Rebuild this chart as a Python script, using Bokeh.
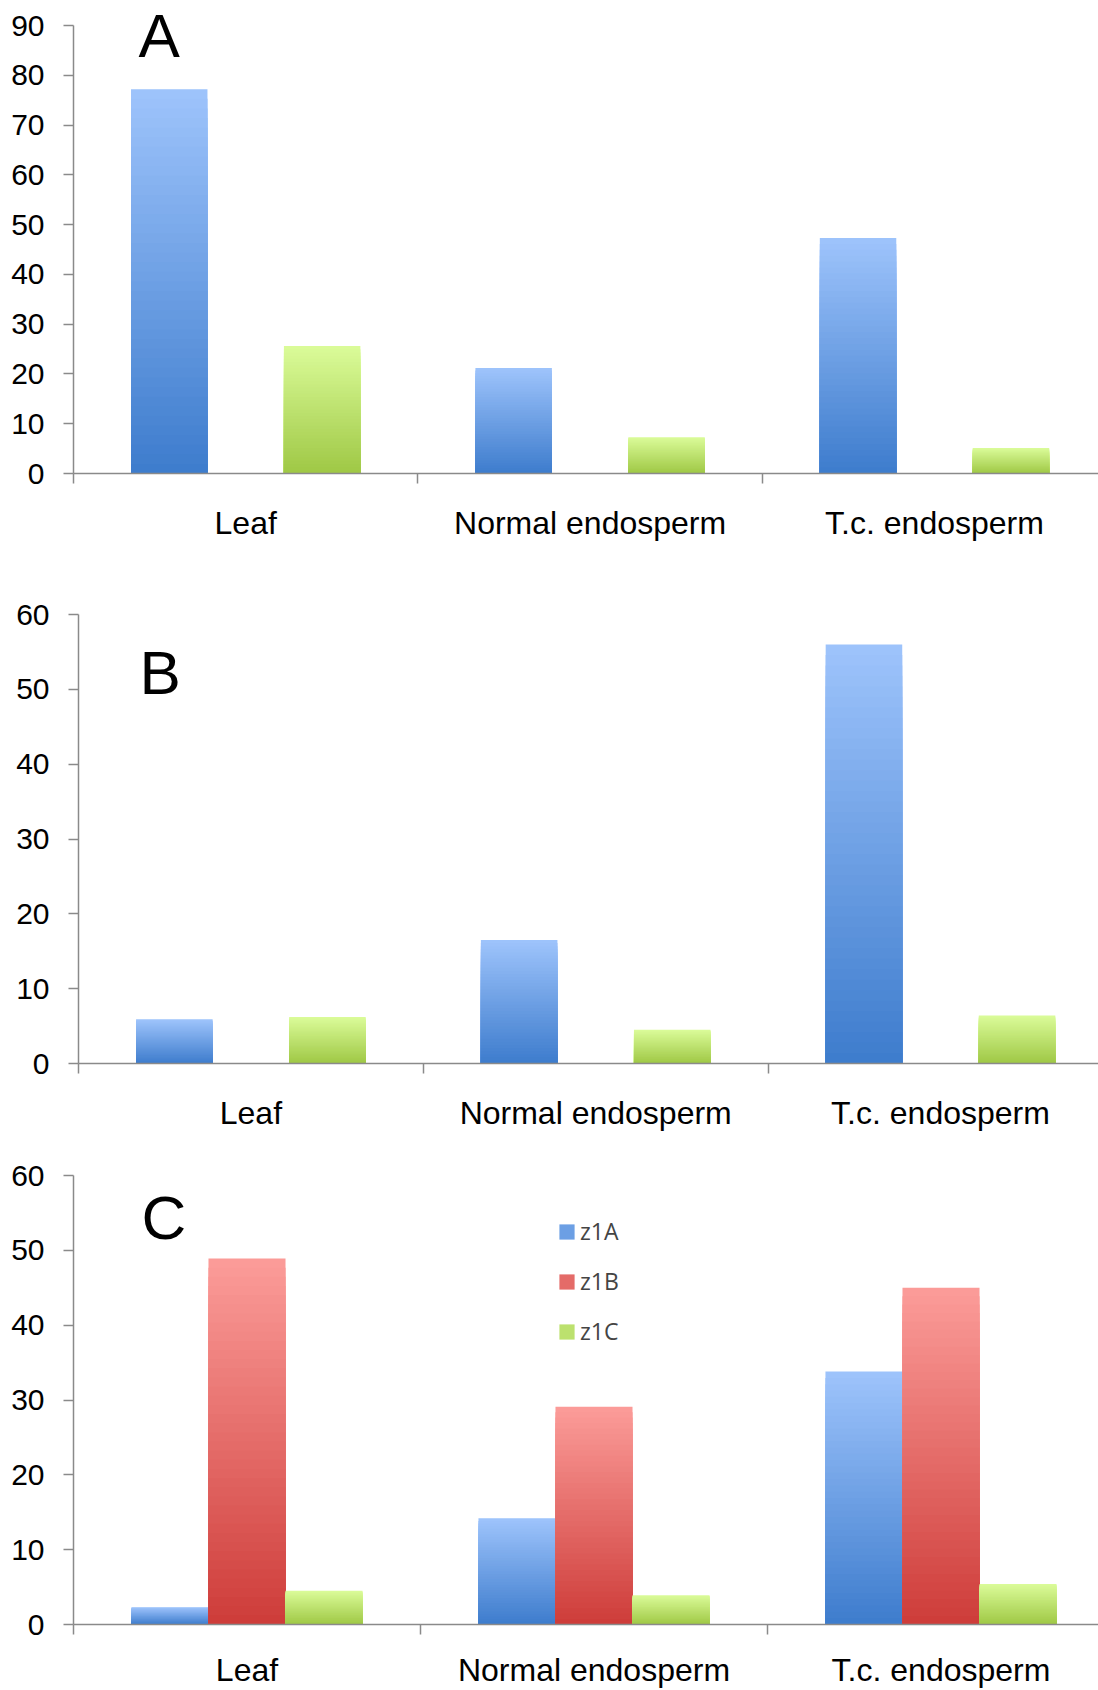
from bokeh.plotting import figure
from bokeh.models import (Range1d, FixedTicker, Legend, LegendItem,
                          Label, ColumnDataSource)
from bokeh.layouts import column
from bokeh.embed import file_html
from bokeh.resources import INLINE

# ---------------- data ----------------
categories = ["Leaf", "Normal endosperm", "T.c. endosperm"]
series_names = ["z1A", "z1B", "z1C"]

A_z1A = [77.2, 21.2, 47.3]
A_z1C = [25.6, 7.3, 5.1]

B_z1A = [5.9, 16.5, 56.0]
B_z1C = [6.2, 4.5, 6.4]

C_z1A = [2.3, 14.2, 33.8]
C_z1B = [48.9, 29.1, 45.0]
C_z1C = [4.5, 3.9, 5.4]

A_yticks = [0, 10, 20, 30, 40, 50, 60, 70, 80, 90]
BC_yticks = [0, 10, 20, 30, 40, 50, 60]

# ---------------- style ----------------
GRAD = {
    "z1A": ((60, 123, 204), (157, 195, 251)),
    "z1B": ((205, 59, 56), (251, 155, 152)),
    "z1C": ((158, 199, 68), (218, 251, 152)),
}
OFFSET = {"z1A": -0.222, "z1B": 0.0, "z1C": 0.222}
BAR_W = 0.222
AXIS_GRAY = "#8a8a8a"
TICK_FONT = "Liberation Sans"
N_STRIPS = 40
TOP_BORDER = 10


def hexcol(c):
    return "#%02x%02x%02x" % tuple(int(round(v)) for v in c)


def mix(a, b, t):
    return tuple(a[i] + (b[i] - a[i]) * t for i in range(3))


def make_panel(letter, series, yticks, height, left, pad, bottom, cat_w,
               letter_xy, label_standoff=21, legend=False):
    frame_w = 1098 - left
    frame_h = height - TOP_BORDER - bottom
    span = frame_h - pad              # pixels between 0 and the top tick
    ymax = yticks[-1]
    n = len(categories)
    p = figure(width=1098, height=height, output_backend="svg",
               toolbar_location=None, tools="",
               x_range=Range1d(0, frame_w / cat_w),
               y_range=Range1d(yticks[0], ymax * frame_h / span),
               min_border_left=left, min_border_right=0,
               min_border_top=TOP_BORDER, min_border_bottom=bottom)
    p.outline_line_color = None
    p.xgrid.visible = False
    p.ygrid.visible = False
    p.background_fill_color = "white"
    p.border_fill_color = "white"

    renderers = {}
    for name, vals in series:
        dark, light = GRAD[name]
        xs, tops, cols = [], [], []
        # nested bars: tallest (light) first, shorter (darker) on top
        for k in range(N_STRIPS):
            frac = (N_STRIPS - k) / N_STRIPS
            col = hexcol(mix(dark, light, frac))
            for i, v in enumerate(vals):
                xs.append(i + 0.5 + OFFSET[name])
                tops.append(v * frac)
                cols.append(col)
        src = ColumnDataSource(dict(x=xs, top=tops, color=cols))
        r = p.vbar(x="x", top="top", bottom=0, width=BAR_W, source=src,
                   fill_color="color", line_color=None)
        renderers[name] = r

    # y axis
    ya = p.yaxis[0]
    ya.ticker = FixedTicker(ticks=yticks)
    ya.bounds = (yticks[0], ymax)
    ya.axis_line_color = AXIS_GRAY
    ya.axis_line_width = 1.5
    ya.major_tick_line_color = AXIS_GRAY
    ya.major_tick_line_width = 1.5
    ya.major_tick_in = 0
    ya.major_tick_out = 10
    ya.minor_tick_line_color = None
    ya.major_label_text_font = TICK_FONT
    ya.major_label_text_font_size = "30px"
    ya.major_label_text_color = "black"
    ya.major_label_standoff = 19

    # x axis: labels at category centres, boundary ticks as minor ticks
    centers = [i + 0.5 for i in range(n)]
    bounds = list(range(n + 1))
    xa = p.xaxis[0]
    xa.ticker = FixedTicker(ticks=centers, minor_ticks=bounds)
    xa.major_label_overrides = {c: categories[i] for i, c in enumerate(centers)}
    xa.axis_line_color = AXIS_GRAY
    xa.axis_line_width = 1.5
    xa.major_tick_line_color = None
    xa.major_tick_in = 0
    xa.major_tick_out = 10
    xa.minor_tick_line_color = AXIS_GRAY
    xa.minor_tick_line_width = 1.5
    xa.minor_tick_in = 0
    xa.minor_tick_out = 10
    xa.major_label_text_font = TICK_FONT
    xa.major_label_text_font_size = "32px"
    xa.major_label_text_color = "black"
    xa.major_label_standoff = label_standoff

    p.add_layout(Label(x=letter_xy[0], y=letter_xy[1], text=letter,
                       text_font="Liberation Sans", text_font_size="62px",
                       text_color="black", text_align="left",
                       text_baseline="alphabetic"))

    if legend:
        items = [LegendItem(label=nm, renderers=[renderers[nm]],
                            index=int(N_STRIPS * 0.5) * len(categories))
                 for nm in series_names]
        lg = Legend(items=items, location=(484, 277),
                    glyph_width=19, glyph_height=19, label_standoff=4,
                    label_text_font="Open Sans", label_text_font_size="23px",
                    label_height=29, spacing=18, padding=0, margin=0,
                    border_line_color=None, background_fill_alpha=0)
        p.add_layout(lg)
    return p


pA = make_panel("A", [("z1A", A_z1A), ("z1C", A_z1C)], A_yticks,
                height=560, left=73, pad=15, bottom=87, cat_w=344.4,
                letter_xy=(0.189, 87.9))
pB = make_panel("B", [("z1A", B_z1A), ("z1C", B_z1C)], BC_yticks,
                height=575, left=78, pad=44, bottom=72, cat_w=344.8,
                letter_xy=(0.177, 52.3))
pC = make_panel("C", [("z1A", C_z1A), ("z1B", C_z1B), ("z1C", C_z1C)], BC_yticks,
                height=555, left=73, pad=30, bottom=66, cat_w=347.0,
                letter_xy=(0.196, 54.4), label_standoff=17, legend=True)

# each panel in its own column so the frames are not aligned to each other
layout = column(column(pA), column(pB), column(pC), spacing=0)
open("out.html", "w").write(file_html(layout, INLINE))
